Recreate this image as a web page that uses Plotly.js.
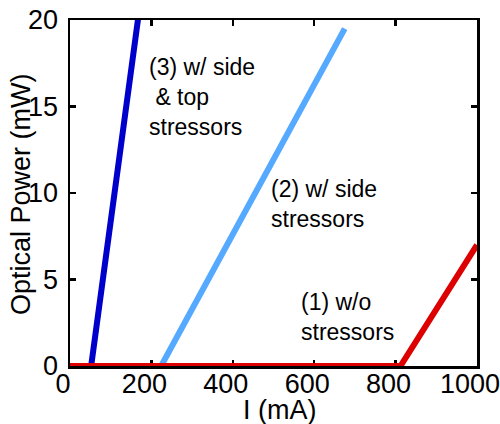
<!DOCTYPE html>
<html>
<head>
<meta charset="utf-8">
<script src="https://cdn.plot.ly/plotly-3.0.1.min.js"></script>
<style>html,body{margin:0;padding:0;background:#fff;}#chart{width:500px;height:424px;}</style>
</head>
<body>
<div id="chart"></div>
<script>
// Data (current in mA, optical power in mW)
const currentTopSide = [0, 52, 168];
const powerTopSide   = [0, 0, 20.2];
const currentSide    = [0, 224, 675];
const powerSide      = [0, 0, 19.5];
const currentNone    = [0, 812, 1000];
const powerNone      = [0, 0, 7.0];
const xTicks = [0, 200, 400, 600, 800, 1000];
const yTicks = [0, 5, 10, 15, 20];

const FONT = 'Liberation Sans, Arial, sans-serif';

const traces = [
  {x: currentTopSide, y: powerTopSide, mode: 'lines', line: {color: '#0000CC', width: 6}},
  {x: currentSide, y: powerSide, mode: 'lines', line: {color: '#55AAFF', width: 6}},
  {x: currentNone, y: powerNone, mode: 'lines', line: {color: '#DD0000', width: 6}}
];

const axisCommon = {
  showline: true, linecolor: '#000', linewidth: 2.5, mirror: 'ticks',
  ticks: 'inside', ticklen: 6, tickwidth: 2.5, tickcolor: '#000',
  showgrid: false, zeroline: false, layer: 'below traces',
  tickfont: {family: FONT, size: 27, color: '#000'},
  ticklabeloverflow: 'allow'
};

const layout = {
  width: 500, height: 424,
  margin: {l: 70, r: 23, t: 20, b: 58},
  paper_bgcolor: '#fff', plot_bgcolor: '#fff',
  showlegend: false,
  xaxis: Object.assign({}, axisCommon, {
    range: [0, 1000], tickvals: xTicks, ticktext: xTicks.map(String),
    ticklabelshift: -7, ticklabelstandoff: -8
  }),
  yaxis: Object.assign({}, axisCommon, {
    range: [0, 20], tickvals: yTicks, ticktext: yTicks.map(String),
    ticklabelstandoff: 4
  }),
  annotations: [
    {x: 0.5, y: 0, xref: 'paper', yref: 'paper', xanchor: 'center', yanchor: 'middle', xshift: 6, yshift: -44,
     showarrow: false, text: 'I (mA)', font: {family: FONT, size: 27, color: '#000'}},
    {x: 0, y: 0.5, xref: 'paper', yref: 'paper', xanchor: 'center', yanchor: 'middle', xshift: -49, yshift: -1,
     textangle: -90, showarrow: false, text: 'Optical Power (mW)', font: {family: FONT, size: 27, color: '#000'}},
    {x: 188, y: 18.15, xref: 'x', yref: 'y', xanchor: 'left', yanchor: 'top', align: 'left', showarrow: false,
     text: '(3) w/ side<br>\u00a0& top<br>stressors', font: {family: FONT, size: 23, color: '#000'}},
    {x: 490, y: 11.1, xref: 'x', yref: 'y', xanchor: 'left', yanchor: 'top', align: 'left', showarrow: false,
     text: '(2) w/ side<br>stressors', font: {family: FONT, size: 23, color: '#000'}},
    {x: 563, y: 4.57, xref: 'x', yref: 'y', xanchor: 'left', yanchor: 'top', align: 'left', showarrow: false,
     text: '(1) w/o<br>stressors', font: {family: FONT, size: 23, color: '#000'}}
  ]
};

Plotly.newPlot('chart', traces, layout, {displayModeBar: false, staticPlot: true});
</script>
</body>
</html>
